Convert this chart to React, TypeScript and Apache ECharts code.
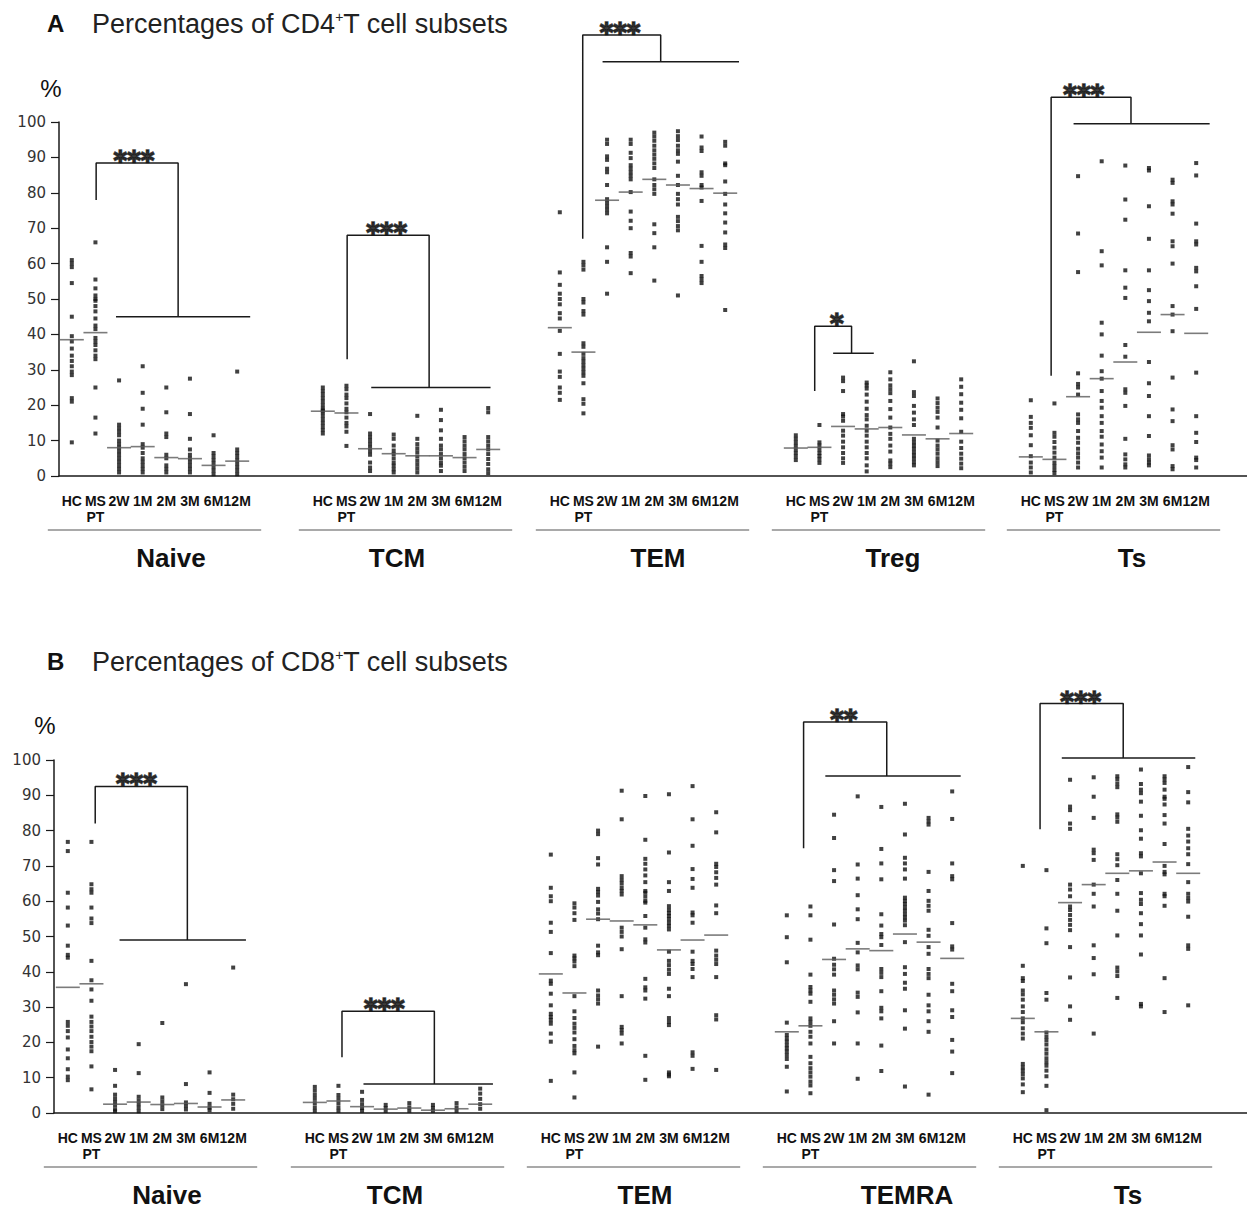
import React, { useEffect, useRef } from "react";
import * as echarts from "echarts";

// ---------- categories & labels ----------
const categories = ["HC", "MS", "2W", "1M", "2M", "3M", "6M", "12M"];
const categoryLabels = ["HC", "MS\nPT", "2W", "1M", "2M", "3M", "6M", "12M"];
const cd4Names = ["Naive", "TCM", "TEM", "Treg", "Ts"];
const cd8Names = ["Naive", "TCM", "TEM", "TEMRA", "Ts"];

// ---------- CD4 (panel A) individual values, one list per category ----------
const naiveCD4 = [
  [61, 60, 59, 54.5, 45, 39.5, 38, 36, 34, 32.5, 31, 29.5, 28.5, 22, 21, 9.5],
  [66, 55.5, 53, 51, 50, 49.5, 48, 46.5, 44.5, 42.5, 41.5, 39, 38, 37, 35.5, 34, 33, 25, 16.5, 12],
  [27, 14.5, 13.5, 12.5, 11.5, 10, 9, 8, 7, 6, 5, 4, 3, 2, 1],
  [31, 23.5, 19, 14.5, 9, 8, 6.5, 5, 4, 3, 2, 1],
  [25, 18, 12, 11, 6, 5, 3, 2, 1],
  [27.5, 17.5, 10.5, 7.5, 6, 5, 4, 3, 2, 1],
  [11.5, 6.5, 5.5, 4.5, 3.5, 2.5, 1.5, 0.5],
  [29.5, 7.5, 6.5, 5.5, 4.5, 3.5, 2.5, 1.5, 0.5],
];
const tcmCD4 = [
  [25, 24, 23, 22, 21, 20, 19, 18.5, 18, 17, 16, 15, 14, 13, 12],
  [25.5, 24.5, 23, 22, 20.5, 19, 18, 16.5, 15, 14, 12.5, 8.5],
  [17.5, 12, 11, 10, 9, 8, 7, 6, 3.8, 2.4, 1.4],
  [11.7, 10.5, 8.6, 7.2, 6.2, 5, 3.8, 2.9, 1.9, 1],
  [17, 10.5, 9, 7.8, 6.7, 5.5, 4.3, 3.2, 2.1, 1],
  [18.7, 15.8, 12.9, 10.5, 8.6, 7.5, 6.2, 5, 3.8, 2.9, 1.4],
  [11, 9.8, 8.6, 7.5, 6.2, 5, 3.8, 2.6, 1.4],
  [19.2, 18, 11, 9.8, 8.6, 7.5, 6.2, 4.8, 3.4, 1.9, 0.8],
];
const temCD4 = [
  [74.5, 57.5, 54, 51.5, 50, 48.5, 46, 44.5, 41, 34.5, 29.5, 28, 25, 23.5, 21.5],
  [60.5, 59.5, 58.3, 50, 49, 46.6, 45.6, 37.5, 36.5, 34.5, 33.3, 32.3, 31.3, 30.3, 29.3, 28.3, 26.2, 21.7, 20.4, 17.7],
  [95, 93.8, 90.3, 89.3, 86.8, 85.8, 82.2, 78.2, 77.2, 76.2, 75.2, 74.2, 64.6, 60.5, 51.5],
  [95, 93.8, 91.3, 89.8, 87.8, 86.8, 85.8, 84.8, 83.8, 80.2, 74.7, 72.1, 70, 63, 62, 57.3],
  [97, 95.9, 94.7, 93.3, 92, 90.8, 89.6, 88.3, 87, 83.8, 82.2, 81, 79.7, 71.1, 68.6, 64.6, 55.2],
  [97.4, 96, 94.9, 93.3, 92, 91, 88.8, 84.8, 82.2, 79.7, 78.2, 76.7, 73.2, 72, 70.6, 69.4, 51],
  [95.9, 92.8, 91.8, 85.8, 84.8, 82.2, 81.5, 77.7, 65, 60.5, 56.5, 55.5, 54.5],
  [94.4, 93.3, 88.3, 87.8, 83.2, 79.7, 76.7, 74.2, 71.6, 68.8, 65.4, 64.4, 46.9],
];
const tregCD4 = [
  [11.5, 10.5, 9.5, 8.5, 7.5, 6.5, 5.5, 4.5],
  [14.4, 9.5, 8.6, 7.5, 6.5, 5.6, 4.7, 3.7],
  [27.8, 26.8, 24, 17.5, 16.8, 15.6, 12.8, 11.4, 9.7, 8.1, 6.5, 5, 3.7],
  [26.4, 25.6, 24.7, 23, 21, 19, 17.2, 16, 14.2, 12.8, 11.4, 9.7, 8.1, 6.5, 5, 3, 1.3],
  [29.3, 27.3, 25.6, 24.5, 23.4, 21.2, 18.9, 16.5, 13.7, 11.9, 10.5, 8.6, 6.9, 4.4, 3.5, 2.5],
  [32.4, 23.7, 22.6, 19.8, 17.9, 16, 14.4, 10.5, 9.5, 8.6, 7.7, 6.7, 5.8, 4.9, 3.9, 3],
  [21.9, 20.6, 19.3, 18.1, 16.5, 13.7, 10, 8.6, 7.5, 6.3, 5, 3.9, 2.8],
  [27.3, 25.2, 23.1, 20.7, 18.7, 16.3, 12.5, 9.7, 7.9, 6.3, 4.9, 3.5, 2.2],
];
const tsCD4 = [
  [21.4, 16.7, 15, 13.6, 11.5, 8.7, 5.6, 3.8, 2.4, 1],
  [20.5, 12.2, 11.1, 9.6, 8, 6.6, 5.2, 3.8, 2.8, 1.7, 0.8],
  [84.7, 68.5, 57.6, 29, 26, 25, 23, 17.4, 16, 15, 12.7, 10.8, 9.4, 7.7, 6.4, 5.2, 3.8, 2.4],
  [88.9, 63.5, 59.5, 43.3, 40, 34, 29.6, 27.5, 24, 21.2, 19.3, 16.9, 15, 12.7, 11.1, 8.9, 7, 5.2, 2.4],
  [87.7, 78.1, 72.4, 58.1, 53.2, 50.3, 37, 33.7, 24.5, 23.5, 19.8, 10.5, 6.1, 4.7, 3.3, 2.4],
  [87, 86.3, 76.2, 67, 58.1, 52.5, 49.4, 46.1, 43.7, 32.2, 26.2, 22.6, 16.9, 11.3, 5.8, 4.7, 3.8, 3],
  [83.7, 82.8, 77.6, 76.7, 74.1, 66.3, 64.9, 60, 48, 45.6, 40.9, 27.8, 18.8, 15.5, 8.7, 7.5, 2.8, 1.9],
  [88.4, 84.9, 71.3, 66.3, 65.4, 58.8, 57.8, 53.6, 47.2, 29.2, 16.9, 12.2, 9.6, 5.2, 4.5, 2.4],
];

// ---------- CD8 (panel B) ----------
const naiveCD8 = [
  [76.8, 74.2, 62.4, 58.2, 53.1, 47.4, 44.8, 44, 25.8, 24.7, 23.2, 21.4, 18, 15.5, 12.4, 10.3, 9.3],
  [76.8, 64.8, 63.4, 62.4, 58.2, 55.1, 53.8, 43.1, 37.6, 35, 31.8, 27.3, 25.8, 24.5, 23.2, 21.6, 20.1, 18.8, 17.5, 13.2, 6.7],
  [12.2, 7.7, 5.2, 4.1, 3.1, 2.1, 1, 0.5],
  [19.5, 11.3, 4.6, 3.5, 2.5, 1.5, 0.5],
  [25.5, 4.4, 3.3, 2.2, 1.1],
  [36.5, 8.2, 3, 2, 1],
  [11.5, 5.7, 2.6, 1.5, 0.8],
  [41.2, 5.2, 3.9, 2.6, 1.2],
];
const tcmCD8 = [
  [7.4, 6.3, 5.1, 4, 2.8, 1.6, 0.6],
  [7.7, 5.1, 4, 2.8, 1.6, 0.6],
  [6, 3.7, 2.5, 1.4, 0.6],
  [2.3, 1.4, 0.6],
  [2.8, 1.6, 0.6],
  [2.3, 1.4, 0.6],
  [2.8, 1.6, 0.6],
  [6.9, 5.5, 4, 2.5, 1.2],
];
const temCD8 = [
  [73.2, 63.8, 61.4, 60, 53.9, 51.3, 45.3, 37.5, 36.6, 33.8, 30.5, 28.1, 27.2, 26.3, 25.3, 22.5, 20.2, 9.1],
  [59.4, 58.2, 56.6, 54.7, 44.6, 43.8, 42.9, 41.6, 33.1, 28.8, 26.9, 25.3, 24.1, 22.8, 20.9, 19, 17.8, 16.9, 11.5, 4.4],
  [80, 79, 72.2, 70.4, 63.5, 62.6, 61.6, 59.8, 57.7, 56.5, 54.9, 47.4, 45.5, 44.7, 34.7, 33.3, 32.2, 31, 18.8],
  [91.3, 83.2, 67.1, 66, 65, 63.8, 62.9, 61.9, 52.5, 51.3, 50, 46.4, 33.1, 24.4, 23.5, 22.5, 19.7],
  [89.8, 77.4, 72, 70.6, 69, 67.3, 65.4, 62.9, 62.4, 61.3, 60.1, 59.6, 55.8, 52.5, 49.2, 48.3, 38, 35.6, 34.7, 32.4, 16.2, 9.4],
  [90.3, 73.8, 65.4, 62.9, 58.6, 57.5, 56.6, 55.8, 54.9, 53.9, 53, 52, 45.7, 43.1, 41.9, 40.6, 39.4, 35.2, 33.1, 26.9, 25.8, 24.9, 11.5, 10.9, 10.4],
  [92.6, 83.2, 75.7, 69.1, 66.3, 63.8, 56.8, 56, 53.9, 45.7, 43.1, 42.2, 40.8, 38.5, 17.2, 16.2, 12.5],
  [85.2, 79.5, 70.6, 69.7, 68.2, 66.6, 64.7, 58.8, 56.6, 46, 44.6, 43.4, 42.2, 38.5, 27.7, 26.5, 12.2],
];
const temraCD8 = [
  [56, 49.8, 42.7, 25.6, 22.1, 21.1, 20.2, 19.2, 18.3, 17.4, 16.4, 15.3, 13.1, 6.1],
  [58.5, 56, 49.1, 39.2, 35.7, 34.7, 33.8, 31.5, 26.8, 25.8, 24.7, 23, 21.6, 19.7, 15.9, 14.1, 12.7, 11.5, 10.3, 8.9, 7.8, 5.6],
  [84.5, 77.9, 68.8, 65.7, 53.4, 43.7, 42, 40.7, 39.2, 34.7, 33.5, 32.2, 31, 26, 19.7],
  [89.7, 70.4, 66.4, 61.7, 57.7, 54.9, 48.2, 45.5, 41.8, 40.7, 34.1, 32.9, 28.5, 19.7, 9.7],
  [86.7, 74.8, 70.7, 66.2, 56.3, 53.1, 50.7, 49.8, 47.6, 40.8, 39.7, 38.5, 34.5, 29.8, 28.8, 26.8, 19.1, 11.9],
  [87.6, 78.9, 72.3, 70.7, 69, 66.4, 61, 60.1, 59.2, 58.2, 57.3, 56.3, 55.4, 54.5, 53.2, 48.4, 41.3, 39.4, 36.9, 35.2, 29.1, 23.9, 7.5],
  [83.6, 82.6, 81.7, 68.3, 62.9, 60.1, 58.7, 57.3, 51.9, 50.2, 47, 45.1, 40.8, 39.4, 38.2, 33.5, 30.5, 28.8, 26, 23, 5.2],
  [91.1, 83.3, 70.7, 67.1, 66.2, 53.8, 47.2, 46.3, 36.6, 34.5, 29.1, 27.2, 20.7, 17.4, 11.3],
];
const tsCD8 = [
  [70, 41.7, 38.2, 37.4, 34.7, 33.6, 32.1, 30.2, 28.6, 26.8, 25.7, 24, 22.5, 21.1, 13.9, 12.9, 12, 11, 9.8, 8.1, 5.9],
  [68.8, 52.3, 48.1, 34, 32.1, 22.8, 21.6, 20.6, 19.4, 18, 16.8, 15.5, 14.4, 13.4, 12, 10.4, 7.7, 0.8],
  [94.4, 86.8, 85.8, 82, 80.5, 64.7, 63.3, 61.4, 58.5, 57.5, 56.1, 54.7, 53.3, 51.8, 47, 38.4, 30.2, 26.4],
  [95.1, 89.6, 83.6, 74.6, 73.6, 71.7, 64.7, 62.1, 58.5, 47.5, 43.9, 39.3, 22.5],
  [95.4, 94.5, 93.3, 92.3, 84.6, 83.7, 82.5, 73.3, 71.9, 70.2, 66, 62.1, 57.3, 50.3, 41.2, 40.1, 38.8, 32.6],
  [97.3, 93.2, 91.6, 90.6, 88.2, 84.2, 80.1, 77.7, 73.6, 72.7, 67.9, 62.3, 60.4, 59.2, 56.6, 53.5, 50.3, 44.9, 30.9, 30.2],
  [95.4, 94.5, 93.5, 91.6, 89.6, 89, 87.4, 84.4, 82, 76.2, 70, 68.3, 67.6, 62.1, 61.4, 58.7, 38.2, 28.6],
  [98, 90.9, 88, 80.5, 78.6, 76.9, 75, 73.3, 70.5, 65.4, 62.1, 60.9, 59.9, 55.6, 47.5, 46.5, 30.5],
];

// ---------- group means (horizontal bars) ----------
const naiveCD4Mean = [38.5, 40.5, 8, 8.3, 5.2, 4.9, 3, 4.2];
const tcmCD4Mean = [18.3, 17.8, 7.7, 6.3, 5.7, 5.7, 5.2, 7.5];
const temCD4Mean = [41.9, 35, 77.9, 80.2, 83.8, 82.2, 81.2, 79.9];
const tregCD4Mean = [7.9, 8.1, 14, 13.3, 13.7, 11.6, 10.5, 12];
const tsCD4Mean = [5.4, 4.7, 22.4, 27.5, 32.2, 40.6, 45.6, 40.3];
const naiveCD8Mean = [35.6, 36.6, 2.5, 3.1, 2.4, 2.7, 1.7, 3.7];
const tcmCD8Mean = [3, 3.4, 1.8, 1.1, 1.4, 0.8, 1.2, 2.5];
const temCD8Mean = [39.4, 34, 54.9, 54.4, 53.3, 46.2, 49, 50.4];
const temraCD8Mean = [23, 24.7, 43.5, 46.5, 46, 50.7, 48.4, 43.8];
const tsCD8Mean = [26.8, 23, 59.6, 64.7, 67.9, 68.6, 71.1, 67.9];

// ---------- significance brackets (in data units: x = category index, y = %) ----------
const cd4Brackets = [
  { stars: "***", legX: 1.03, legFrom: 78, top: 88.4, dropX: 4.5, barY: 45, barFrom: 1.87, barTo: 7.55, starX: 2.63 },
  { stars: "***", legX: 1.03, legFrom: 33, top: 68, dropX: 4.5, barY: 25, barFrom: 2.05, barTo: 7.1, starX: 2.7 },
  { stars: "***", legX: 0.97, legFrom: 67, top: 124.6, dropX: 4.27, barY: 117, barFrom: 1.81, barTo: 7.6, starX: 2.55 },
  { stars: "*", legX: 0.8, legFrom: 24, top: 42.3, dropX: 2.36, barY: 34.7, barFrom: 1.58, barTo: 3.3, starX: 1.73 },
  { stars: "***", legX: 0.86, legFrom: 28.3, top: 107, dropX: 4.24, barY: 99.5, barFrom: 1.81, barTo: 7.57, starX: 2.24 },
];
const cd8Brackets = [
  { stars: "***", legX: 1.16, legFrom: 82, top: 92.5, dropX: 5.06, barY: 49, barFrom: 2.19, barTo: 7.54, starX: 2.9 },
  { stars: "***", legX: 1.15, legFrom: 15.8, top: 28.8, dropX: 5.06, barY: 8.2, barFrom: 2.06, barTo: 7.54, starX: 2.94 },
  null,
  { stars: "**", legX: 0.71, legFrom: 75, top: 110.8, dropX: 4.23, barY: 95.5, barFrom: 1.63, barTo: 7.36, starX: 2.41 },
  { stars: "***", legX: 0.73, legFrom: 80.4, top: 116, dropX: 4.25, barY: 100.6, barFrom: 1.65, barTo: 7.3, starX: 2.45 },
];

// ---------- layout ----------
const W = 1247;
const H = 1212;
const GRID_W = 189;
const SANS = "Liberation Sans, Arial, sans-serif";

const panels = [
  {
    letter: "A", cd: "CD4", titleTop: 5, pctY: 88, pctX: 51,
    top: 122, height: 354, axisX: 59,
    lefts: [60, 311, 548, 784, 1019],
    names: cd4Names, nameX: [171, 397, 658, 893, 1132],
    lineY: 530, nameY: 558,
    dots: [naiveCD4, tcmCD4, temCD4, tregCD4, tsCD4],
    means: [naiveCD4Mean, tcmCD4Mean, temCD4Mean, tregCD4Mean, tsCD4Mean],
    brackets: cd4Brackets,
  },
  {
    letter: "B", cd: "CD8", titleTop: 643, pctY: 725, pctX: 45,
    top: 760, height: 353, axisX: 54,
    lefts: [56, 303, 539, 775, 1011],
    names: cd8Names, nameX: [167, 395, 645, 907, 1128],
    lineY: 1167, nameY: 1195,
    dots: [naiveCD8, tcmCD8, temCD8, temraCD8, tsCD8],
    means: [naiveCD8Mean, tcmCD8Mean, temCD8Mean, temraCD8Mean, tsCD8Mean],
    brackets: cd8Brackets,
  },
];

function buildOption() {
  const grid: any[] = [];
  const xAxis: any[] = [];
  const yAxis: any[] = [];
  const series: any[] = [];
  const title: any[] = [];
  const graphic: any[] = [];
  const black = "#1a1a1a";

  panels.forEach((p) => {
    title.push({
      left: 42,
      top: p.titleTop,
      text: `{a|${p.letter}}{b|Percentages of ${p.cd}}{s|+}{b|T cell subsets}`,
      textStyle: {
        fontWeight: "normal",
        rich: {
          a: { fontSize: 24, fontWeight: "bold", fontFamily: SANS, color: "#111", width: 45 },
          b: { fontSize: 27, fontWeight: "normal", fontFamily: SANS, color: "#222" },
          s: { fontSize: 14, fontWeight: "normal", fontFamily: SANS, color: "#222", verticalAlign: "top", padding: [0, 0, 12, 0] },
        },
      },
    });
    graphic.push({
      type: "text",
      x: p.pctX,
      y: p.pctY,
      style: { text: "%", fontSize: 24, fontFamily: SANS, fill: "#111", align: "center", verticalAlign: "middle", textAlign: "center", textVerticalAlign: "middle" },
    });

    // background grid: y axis + full-width baseline
    const bg = grid.length;
    grid.push({ left: p.axisX, top: p.top, width: W - p.axisX, height: p.height });
    xAxis.push({
      gridIndex: bg, type: "value", min: 0, max: 1,
      axisLine: { show: true, lineStyle: { color: black, width: 1.5 } },
      axisTick: { show: false }, axisLabel: { show: false }, splitLine: { show: false },
    });
    yAxis.push({
      gridIndex: bg, type: "value", min: 0, max: 100, interval: 10,
      axisLine: { show: true, lineStyle: { color: black, width: 1.5 } },
      axisTick: { show: true, length: 8, lineStyle: { color: black, width: 1.2 } },
      axisLabel: { fontFamily: "DejaVu Sans", fontSize: 15, color: "#333", margin: 13 },
      splitLine: { show: false },
    });

    p.lefts.forEach((left, gi) => {
      const g = grid.length;
      grid.push({ left, top: p.top, width: GRID_W, height: p.height });
      const xCat = xAxis.length;
      xAxis.push({
        gridIndex: g, type: "category", data: categoryLabels,
        axisLine: { show: false }, axisTick: { show: false },
        axisLabel: { interval: 0, fontWeight: "bold", fontSize: 14, fontFamily: SANS, color: "#111", margin: 17, lineHeight: 16 },
        splitLine: { show: false },
      });
      const xVal = xAxis.length;
      xAxis.push({ gridIndex: g, type: "value", min: -0.5, max: 7.5, show: false });
      const yi = yAxis.length;
      yAxis.push({ gridIndex: g, type: "value", min: 0, max: 100, show: false });

      const cols: number[][] = p.dots[gi];
      series.push({
        type: "scatter", xAxisIndex: xCat, yAxisIndex: yi,
        symbol: "rect", symbolSize: 4,
        itemStyle: { color: "#111" },
        data: cols.flatMap((col, ci) => col.map((v) => [ci, v])),
        z: 3,
      });
      series.push({
        type: "scatter", xAxisIndex: xCat, yAxisIndex: yi,
        symbol: "rect", symbolSize: [24, 1.6],
        itemStyle: { color: "#5a5a5a" },
        data: p.means[gi].map((m, ci) => [ci, m]),
        z: 4,
      });

      const b = p.brackets[gi];
      if (b) {
        const ls = { color: black, width: 1.5 };
        series.push({
          type: "line", xAxisIndex: xVal, yAxisIndex: yi, clip: false, symbol: "none",
          lineStyle: ls, z: 5,
          data: [[b.legX, b.legFrom], [b.legX, b.top], [b.dropX, b.top], [b.dropX, b.barY]],
        });
        series.push({
          type: "line", xAxisIndex: xVal, yAxisIndex: yi, clip: false, symbol: "none",
          lineStyle: ls, z: 5,
          data: [[b.barFrom, b.barY], [b.barTo, b.barY]],
        });
        series.push({
          type: "scatter", xAxisIndex: xVal, yAxisIndex: yi, clip: false,
          symbolSize: 1, itemStyle: { color: "rgba(0,0,0,0)" },
          label: {
            show: true, position: "inside", formatter: b.stars, offset: [0, -2],
            fontFamily: "DejaVu Sans", fontWeight: "bold", fontSize: 26, color: "#111",
            textBorderColor: "#111", textBorderWidth: 1.6,
          },
          data: [[b.starX, b.top]],
          z: 6,
        });
      }

      // underline and subset name
      const step = GRID_W / categories.length;
      const x0 = left + step / 2 - 24;
      const x1 = left + step * 7.5 + 24;
      graphic.push({
        type: "line",
        shape: { x1: x0, y1: p.lineY, x2: x1, y2: p.lineY },
        style: { stroke: "#555", lineWidth: 1.2 },
      });
      graphic.push({
        type: "text",
        x: p.nameX[gi],
        y: p.nameY,
        style: {
          text: p.names[gi], fontSize: 26, fontWeight: "bold", fontFamily: SANS, fill: "#111",
          align: "center", verticalAlign: "middle", textAlign: "center", textVerticalAlign: "middle",
        },
      });
    });
  });

  return { animation: false, backgroundColor: "#ffffff", title, grid, xAxis, yAxis, series, graphic };
}

export default function App() {
  const ref = useRef<HTMLDivElement>(null);
  useEffect(() => {
    if (!ref.current) return;
    const chart = echarts.init(ref.current, undefined, { renderer: "svg" });
    chart.setOption(buildOption() as any);
    return () => chart.dispose();
  }, []);
  return <div ref={ref} style={{ position: "absolute", left: 0, top: 0, width: W, height: H }} />;
}
